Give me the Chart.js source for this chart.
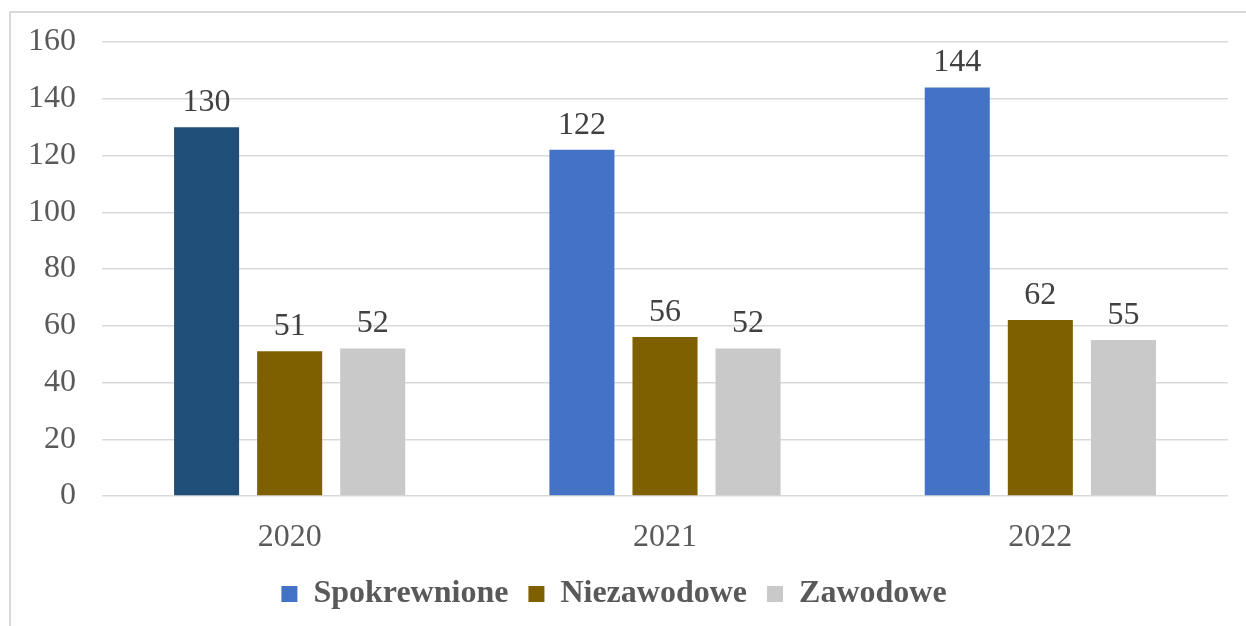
<!DOCTYPE html>
<html>
<head>
<meta charset="utf-8">
<script src="https://cdn.jsdelivr.net/npm/chart.js@4.4.1/dist/chart.umd.min.js"></script>
<style>
  html, body { margin: 0; padding: 0; background: #fff; }
  #frame { position: absolute; left: 9px; top: 11px; width: 1260px; height: 640px; border: 2px solid #d9d9d9; box-sizing: border-box; }
  #wrap { position: absolute; left: 0; top: 0; width: 1246px; height: 626px; }
</style>
</head>
<body>
<div id="frame"></div>
<div id="wrap"><canvas id="myChart"></canvas></div>
<script>
const years = ['2020', '2021', '2022'];
const spokrewnione = [130, 122, 144];
const niezawodowe = [51, 56, 62];
const zawodowe = [52, 52, 55];
const yTicks = [0, 20, 40, 60, 80, 100, 120, 140, 160];

const blue = '#4472C4';
const darkBlue = '#1F4E79';
const brown = '#7F6000';
const grey = '#C9C9C9';
const serif = '"Liberation Serif", "Times New Roman", serif';

// labels drawn above each bar
const valueLabels = {
    id: 'valueLabels',
    afterDatasetsDraw(chart) {
        const ctx = chart.ctx;
        ctx.save();
        ctx.font = '32px ' + serif;
        ctx.fillStyle = '#404040';
        ctx.textAlign = 'center';
        ctx.textBaseline = 'alphabetic';
        chart.data.datasets.forEach((ds, i) => {
            chart.getDatasetMeta(i).data.forEach((bar, j) => {
                ctx.fillText(ds.data[j], bar.x, bar.y - 16);
            });
        });
        ctx.restore();
    }
};

const ctx = document.getElementById('myChart');

new Chart(ctx, {
    type: 'bar',
    data: {
    labels: years,
    datasets: [{
        label: 'Spokrewnione',
        data: spokrewnione,
        backgroundColor: c => (c.type === 'data' && c.dataIndex === 0) ? darkBlue : blue
    }, {
        label: 'Niezawodowe',
        data: niezawodowe,
        backgroundColor: brown
    }, {
        label: 'Zawodowe',
        data: zawodowe,
        backgroundColor: grey
    }]
    },
    options: {
    responsive: true,
    maintainAspectRatio: false,
    animation: false,
    layout: { padding: { left: 0, right: 18, top: 42, bottom: 6 } },
    datasets: {
        bar: { categoryPercentage: 0.664, barPercentage: 0.783 }
    },
    plugins: {
        tooltip: { enabled: false },
        legend: {
        position: 'bottom',
        labels: {
            boxWidth: 16,
            boxHeight: 16,
            padding: 20,
            color: '#595959',
            font: { family: serif, size: 32, weight: 'bold' },
            generateLabels: chart => {
                const items = Chart.defaults.plugins.legend.labels.generateLabels(chart);
                items[0].fillStyle = blue;
                items.forEach(it => { it.strokeStyle = 'rgba(0,0,0,0)'; it.lineWidth = 0; });
                return items;
            }
        }
        }
    },
    scales: {
        x: {
        grid: { display: false, drawTicks: false },
        border: { display: false },
        afterFit: axis => { axis.height = 62; },
        ticks: {
            color: '#595959',
            padding: 22,
            font: { family: serif, size: 32 }
        }
        },
        y: {
        min: 0,
        max: 160,
        afterBuildTicks: axis => { axis.ticks = yTicks.map(v => ({ value: v })); },
        afterFit: axis => { axis.width = 102; axis.paddingTop = 0; },
        grid: { color: '#d9d9d9', lineWidth: 1.5, drawTicks: false },
        border: { display: false },
        ticks: {
            color: '#595959',
            padding: 26,
            font: { family: serif, size: 32 }
        }
        }
    }
    },
    plugins: [valueLabels]
});
</script>
</body>
</html>
